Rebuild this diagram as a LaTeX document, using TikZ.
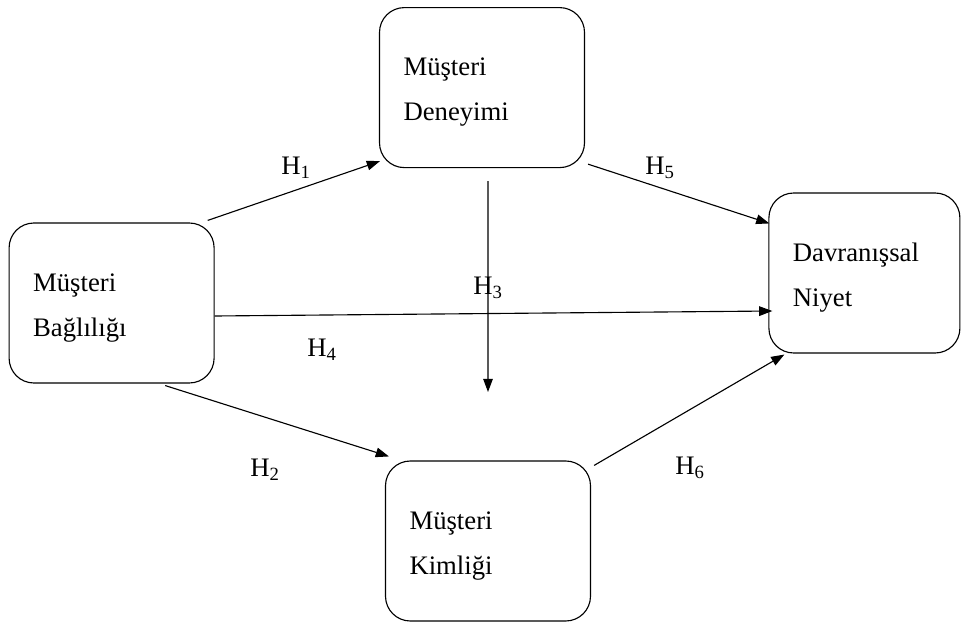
\documentclass[tikz,border=0pt]{standalone}
\usepackage{fontspec}
\setmainfont{Liberation Serif}
\usetikzlibrary{arrows.meta}
\tikzset{
    construct/.style={draw, line width=0.8pt, rounded corners=0.62cm, align=left,
        minimum height=4cm, inner xsep=0.6cm, text width=3.925cm,
        font=\fontsize{19}{32}\selectfont,
        execute at begin node={\rule{0pt}{0.68cm}}},
    hyp/.style={-{Triangle[length=0.33cm,width=0.24cm]}, line width=0.8pt},
    hlabel/.style={font=\fontsize{19}{22}\selectfont, inner sep=0pt}
}
\begin{document}
\begin{tikzpicture}
    \useasboundingbox (0, 0) rectangle (24.025, 15.55);
    % constructs
    \node[construct] (bag) at (2.79, 7.975) {Müşteri\\Bağlılığı};
    \node[construct] (den) at (12.05, 13.36) {Müşteri\\Deneyimi};
    \node[construct, text width=3.575cm] (dav) at (21.61, 8.725) {Davranışsal\\Niyet};
    \node[construct] (kim) at (12.2, 2.025) {Müşteri\\Kimliği};
    \coordinate (h3end) at (12.2, 5.75);
    % hypotheses
    \draw[hyp] ([shift={(-0.175, 0.05)}]bag.north east) -- ([shift={(0.025, 0.175)}]den.south west);
    \draw[hyp] ([shift={(0.075, 0.1)}]den.south east) -- ([shift={(0.025, -0.775)}]dav.north west);
    \draw[hyp] ([shift={(0.15, -0.325)}]den.south) -- (h3end);
    \draw[hyp] ([shift={(0, -0.325)}]bag.east) -- ([shift={(0.1, -0.95)}]dav.west);
    \draw[hyp] ([shift={(1.34, -0.05)}]bag.south) -- ([shift={(0.1, 0.1)}]kim.north west);
    \draw[hyp] ([shift={(0.075, -0.125)}]kim.north east) -- ([shift={(0.4, -0.025)}]dav.south west);
    % labels
    \node[hlabel] (h1) at (7.4, 11.35) {H\textsubscript{1}};
    \node[hlabel] (h5) at (16.5, 11.35) {H\textsubscript{5}};
    \node[hlabel] (h3) at (12.2, 8.35) {H\textsubscript{3}};
    \node[hlabel] (h4) at (8.05, 6.8) {H\textsubscript{4}};
    \node[hlabel] (h2) at (6.625, 3.8) {H\textsubscript{2}};
    \node[hlabel] (h6) at (17.25, 3.85) {H\textsubscript{6}};
\end{tikzpicture}
\end{document}
